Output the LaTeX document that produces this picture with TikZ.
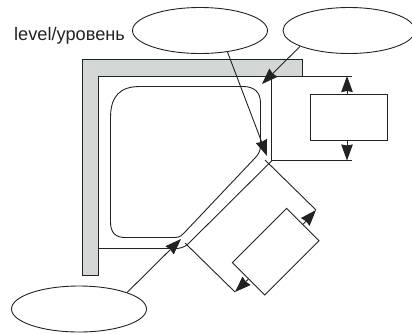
\documentclass[tikz,border=0pt]{standalone}
\usepackage{fontspec}
\setmainfont{Liberation Sans}
\usetikzlibrary{arrows.meta,shapes.geometric}
\definecolor{ink}{HTML}{222222}
\definecolor{wallgray}{HTML}{D3D8D6}
\tikzset{
  x=1pt,y=-1pt,
  ell/.style={draw=ink,ellipse,line width=.9pt,inner sep=0pt,minimum width=135pt,minimum height=46pt},
  box/.style={draw=ink,rectangle,line width=.95pt,inner sep=0pt,fill=white},
  wall/.style={draw=ink,line width=.95pt,line join=miter},
  line/.style={draw=ink,line width=.9pt},
  arr/.style={draw=ink,line width=.9pt,-{Stealth[length=16pt,width=11.5pt,inset=1pt]}},
}
\begin{document}
\begin{tikzpicture}
\useasboundingbox (0,0) rectangle (412,333);
\begin{scope}
\clip (0,0) rectangle (412,333);
% wall
\draw[wall,fill=wallgray] (82.5,59.5) -- (302.5,59.5) -- (302.5,76.5) -- (98.5,76.5) -- (98.5,275.5) -- (82.5,275.5) -- cycle;
% outer outline
\draw[line] (98.5,76.5) -- (352,76.5);
\draw[line] (271.5,76.5) -- (271.5,160.5) -- (352,160.5);
\draw[line] (271.5,161) -- (188,244) .. controls (184,247.5) and (180,248.5) .. (175,248.5) -- (98.5,248.5);
% inner rounded outline
\draw[line] (140,86.5) -- (243,86.5) .. controls (254,86.5) and (260.5,92) .. (260.5,103) -- (260.5,146) .. controls (260.5,151) and (258,155) .. (255,158) -- (185,232) .. controls (182,235) and (180,237.5) .. (175,237.5) -- (125,237.5) .. controls (115,237.5) and (110.5,232) .. (110.5,222) -- (110.5,118) .. controls (110.5,96) and (120,86.5) .. (140,86.5) -- cycle;
% perpendicular extension lines
\coordinate (diagtip) at (316,210);
\coordinate (lowtip) at (235,292);
\draw[line] (265,160) -- (diagtip);
\draw[line] (185,243) -- (lowtip);
% ellipses
\node[ell] (topell) at (200,30.5) {};
\node[ell,minimum width=132pt] (rightell) at (349,30.5) {};
\node[ell] (lowell) at (79,309) {};
% boxes
\node[box,minimum width=77pt,minimum height=46pt] (dimbox) at (348.5,117.5) {};
\node[box,minimum width=76.8pt,minimum height=45.8pt,rotate=45] (rotbox) at (275.7,251.7) {};
% tips
\coordinate (dimtop) at (347,76);
\coordinate (dimbot) at (347,160.5);
\coordinate (toptip) at (267,156);
\coordinate (righttip) at (262,84);
\coordinate (lowelltip) at (181,239);
% arrows
\draw[arr] (dimbox.north -| dimtop) -- (dimtop);
\draw[arr] (dimbox.south -| dimbot) -- (dimbot);
\draw[arr] (rotbox.east) -- (diagtip);
\draw[arr] (rotbox.west) -- (lowtip);
\draw[arr] (topell.-38) -- (toptip);
\draw[arr] (rightell.198.4) -- (righttip);
\draw[arr] (lowell.19) -- (lowelltip);
% label
\node[anchor=base west,inner sep=0pt,font=\fontsize{18.2}{20}\selectfont,text=ink] (lvl) at (14,40) {level/уровень};
\end{scope}
\end{tikzpicture}
\end{document}
